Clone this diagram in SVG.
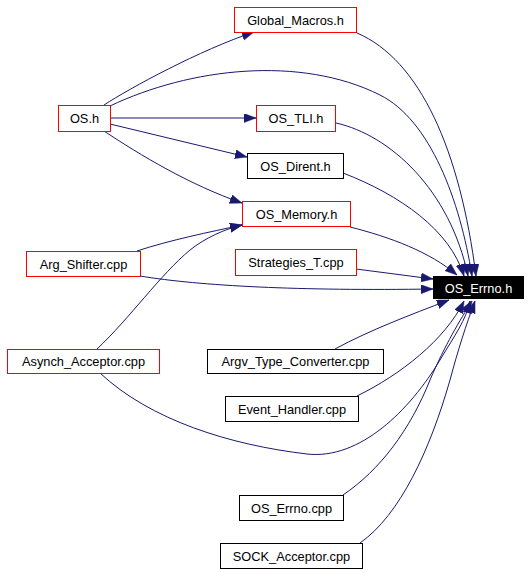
<svg xmlns="http://www.w3.org/2000/svg" width="531" height="573" viewBox="0 0 531 573">
<style>
.n rect{fill:#ffffff;stroke-width:1}
.r rect{stroke:#ff0000}
.k rect{stroke:#000000}
text{font-family:"Liberation Sans",Arial,Helvetica,sans-serif;font-size:12.8px;text-anchor:middle;fill:#000000}
.e path{fill:none;stroke:#191970;stroke-width:1}
</style>
<defs>
<marker id="a" markerUnits="userSpaceOnUse" markerWidth="13" markerHeight="10" refX="12" refY="4.5" orient="auto">
<path d="M0,0 L12,4.5 L0,9 z" fill="#191970" stroke="#191970" stroke-width="0.5"/>
</marker>
</defs>
<rect width="531" height="573" fill="#ffffff"/>
<g class="e" id="edges">
<path marker-end="url(#a)" d="M104,105 C130,88 200,50 254,32"/>
<path marker-end="url(#a)" d="M110,106 C190,68 300,55 380,95 C430,120 460,200 472,276"/>
<path marker-end="url(#a)" d="M110,118 L256,118"/>
<path marker-end="url(#a)" d="M110,124 L247,157"/>
<path marker-end="url(#a)" d="M104,131 C140,155 190,185 242,203"/>
<path marker-end="url(#a)" d="M357,33 C420,60 460,150 476,276"/>
<path marker-end="url(#a)" d="M336,123 C390,135 450,190 468,276"/>
<path marker-end="url(#a)" d="M343,173 C400,195 450,230 464,276"/>
<path marker-end="url(#a)" d="M350,227 C390,237 430,252 457,275"/>
<path marker-end="url(#a)" d="M356,269 L433,279"/>
<path marker-end="url(#a)" d="M140,276 C200,286 300,291 433,289"/>
<path marker-end="url(#a)" d="M137,251 C170,240 210,232 242,225"/>
<path marker-end="url(#a)" d="M97,349 C130,318 160,275 190,250 C205,238 225,229 242,225"/>
<path marker-end="url(#a)" d="M100,373 C150,420 230,445 307,454 C360,460 410,410 440,360 C455,335 466,320 470,301"/>
<path marker-end="url(#a)" d="M335,349 C370,330 410,315 449,300"/>
<path marker-end="url(#a)" d="M357,396 C400,375 445,340 464,301"/>
<path marker-end="url(#a)" d="M343,495 C380,470 410,430 430,380 C445,345 460,320 472,301"/>
<path marker-end="url(#a)" d="M360,543 C400,515 430,450 450,380 C458,350 466,325 475,301"/>
</g>
<g id="Global_Macros_h" class="n r"><rect x="234.5" y="7.5" width="122" height="25"/><text x="295.5" y="24.5">Global_Macros.h</text></g>
<g id="OS_h" class="n r"><rect x="58.5" y="105.5" width="52" height="26"/><text x="84.5" y="123">OS.h</text></g>
<g id="OS_TLI_h" class="n r"><rect x="256.5" y="105.5" width="79" height="26"/><text x="296" y="123">OS_TLI.h</text></g>
<g id="OS_Dirent_h" class="n k"><rect x="247.5" y="153.5" width="96" height="25"/><text x="295.5" y="170.5">OS_Dirent.h</text></g>
<g id="OS_Memory_h" class="n r"><rect x="242.5" y="201.5" width="108" height="25"/><text x="296.5" y="218.5">OS_Memory.h</text></g>
<g id="Strategies_T_cpp" class="n r"><rect x="235.5" y="249.5" width="121" height="26"/><text x="296" y="267">Strategies_T.cpp</text></g>
<g id="OS_Errno_h"><rect x="433" y="276" width="91" height="23" fill="#000000"/><text x="478.5" y="292.5" style="fill:#ffffff">OS_Errno.h</text></g>
<g id="Arg_Shifter_cpp" class="n r"><rect x="26.5" y="251.5" width="114" height="25"/><text x="83.5" y="268.5">Arg_Shifter.cpp</text></g>
<g id="Asynch_Acceptor_cpp" class="n r"><rect x="7.5" y="349.5" width="152" height="24"/><text x="83.5" y="366">Asynch_Acceptor.cpp</text></g>
<g id="Argv_Type_Converter_cpp" class="n k"><rect x="207.5" y="349.5" width="176" height="24"/><text x="295.5" y="366">Argv_Type_Converter.cpp</text></g>
<g id="Event_Handler_cpp" class="n k"><rect x="225.5" y="396.5" width="133" height="25"/><text x="292" y="413.5">Event_Handler.cpp</text></g>
<g id="OS_Errno_cpp" class="n k"><rect x="239.5" y="495.5" width="104" height="25"/><text x="291.5" y="512.5">OS_Errno.cpp</text></g>
<g id="SOCK_Acceptor_cpp" class="n k"><rect x="220.5" y="543.5" width="142" height="25"/><text x="291.5" y="560.5">SOCK_Acceptor.cpp</text></g>
</svg>
